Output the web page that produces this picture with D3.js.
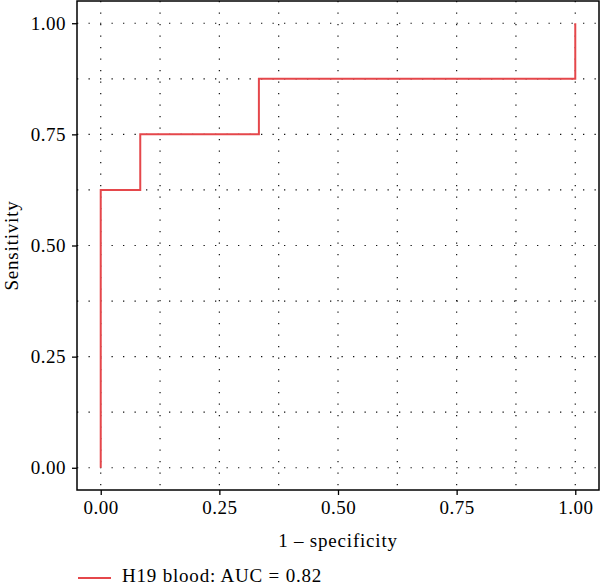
<!DOCTYPE html>
<html><head><meta charset="utf-8">
<script src="https://cdn.jsdelivr.net/npm/d3@7"></script>
<style>body{margin:0;background:#fff}svg{display:block}</style>
</head><body><svg id="c" width="600" height="585"></svg>
<script>
const fpr = [0, 0, 0.0833, 0.0833, 0.3333, 0.3333, 1, 1];
const tpr = [0, 0.625, 0.625, 0.75, 0.75, 0.875, 0.875, 1];
const ticks = [0, 0.25, 0.5, 0.75, 1];
const tickLabels = ["0.00", "0.25", "0.50", "0.75", "1.00"];
const minorTicks = [0.125, 0.375, 0.625, 0.875];
const seriesName = "H19 blood: AUC = 0.82";
const xTitle = "1 – specificity", yTitle = "Sensitivity";

const font = "'Liberation Serif', 'DejaVu Serif', serif";
const fs = "19px", ls = "0.8px";
const svg = d3.select("#c");
const L = 77, R = 599, T = 1, B = 490;
const pad = 0.05;
const x = d3.scaleLinear().domain([-pad, 1 + pad]).range([L, R]);
const y = d3.scaleLinear().domain([-pad, 1 + pad]).range([B, T]);

const grid = svg.append("g").attr("stroke", "#111").attr("stroke-width", 1.2)
  .attr("stroke-dasharray", "1.3,10.2").attr("fill", "none");
ticks.concat(minorTicks).forEach(v => {
  grid.append("line").attr("x1", L).attr("x2", R).attr("y1", y(v)).attr("y2", y(v));
  grid.append("line").attr("y1", T).attr("y2", B).attr("x1", x(v)).attr("x2", x(v));
});

const line = d3.line().x((d, i) => x(fpr[i])).y((d, i) => y(tpr[i]));
svg.append("path").datum(fpr).attr("d", line).attr("fill", "none")
  .attr("stroke", "#e5474b").attr("stroke-width", 2);

svg.append("rect").attr("x", L).attr("y", T).attr("width", R - L).attr("height", B - T)
  .attr("fill", "none").attr("stroke", "#000").attr("stroke-width", 1.5);

const xAxis = d3.axisBottom(x).tickValues(ticks).tickFormat((d, i) => tickLabels[i]).tickSize(5).tickPadding(6);
const gx = svg.append("g").attr("transform", `translate(0,${B})`).call(xAxis);
const yAxis = d3.axisLeft(y).tickValues(ticks).tickFormat((d, i) => tickLabels[i]).tickSize(5).tickPadding(6);
const gy = svg.append("g").attr("transform", `translate(${L},0)`).call(yAxis);
[gx, gy].forEach(g => {
  g.select(".domain").remove();
  g.selectAll(".tick line").attr("stroke", "#000").attr("stroke-width", 1.3);
  g.selectAll(".tick text").attr("fill", "#000").style("font-family", font).style("font-size", fs)
    .style("letter-spacing", "0.5px");
});

svg.append("text").attr("x", (L + R) / 2).attr("y", 547).attr("text-anchor", "middle")
  .style("font-family", font).style("font-size", fs).style("letter-spacing", ls).text(xTitle);
svg.append("text").attr("transform", `translate(18,${(T + B) / 2}) rotate(-90)`).attr("text-anchor", "middle")
  .style("font-family", font).style("font-size", fs).style("letter-spacing", ls).text(yTitle);

svg.append("line").attr("x1", 78).attr("x2", 111).attr("y1", 578).attr("y2", 578)
  .attr("stroke", "#e5474b").attr("stroke-width", 2);
svg.append("text").attr("x", 122).attr("y", 582).style("font-family", font).style("font-size", fs)
  .style("letter-spacing", ls).text(seriesName);
</script></body></html>
